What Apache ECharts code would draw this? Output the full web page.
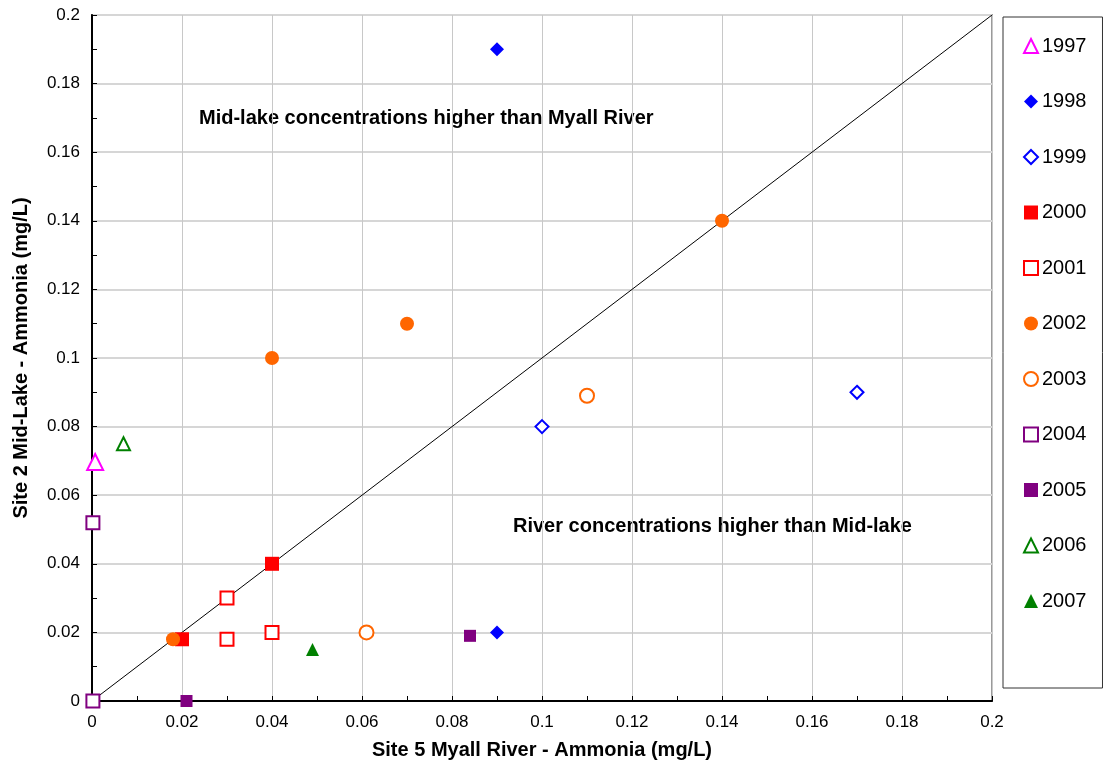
<!DOCTYPE html>
<html>
<head>
<meta charset="utf-8">
<script src="https://cdn.jsdelivr.net/npm/echarts@6/dist/echarts.min.js"></script>
<style>
  html, body { margin: 0; padding: 0; background: #fff; }
  #chart { width: 1108px; height: 769px; }
</style>
</head>
<body>
<div id="chart"></div>
<script>
// [river, midLake] pairs per year
var d1997 = [[0.0007, 0.0697]];
var d1998 = [[0.09, 0.19], [0.09, 0.02]];
var d1999 = [[0.1, 0.08], [0.17, 0.09]];
var d2000 = [[0.02, 0.018], [0.04, 0.04]];
var d2001 = [[0.03, 0.03], [0.03, 0.018], [0.04, 0.02]];
var d2002 = [[0.018, 0.018], [0.04, 0.1], [0.07, 0.11], [0.14, 0.14]];
var d2003 = [[0.11, 0.089], [0.061, 0.02]];
var d2004 = [[0.0002, 0.052], [0.0002, 0]];
var d2005 = [[0.021, 0], [0.084, 0.019]];
var d2006 = [[0.007, 0.075]];
var d2007 = [[0.049, 0.015]];
var oneToOne = [[0, 0], [0.2, 0.2]];

var font = "Liberation Sans, Arial, sans-serif";

// 年份系列样式
function pts(name, data, symbol, size, color, hollow) {
  return {
    name: name,
    type: "scatter",
    data: data,
    symbol: symbol,
    symbolSize: size,
    z: 5,
    itemStyle: hollow
      ? { color: "#fff", borderColor: color, borderWidth: 2, opacity: 1 }
      : { color: color, borderWidth: 0, opacity: 1 }
  };
}

var chart = echarts.init(document.getElementById("chart"));
var option = {
  backgroundColor: "#fff",
  animation: false,
  textStyle: { fontFamily: font },
  grid: { left: 92, right: 116, top: 15, bottom: 68, show: true, borderColor: "#9a9a9a", borderWidth: 2, backgroundColor: "transparent" },
  legend: {
    orient: "vertical",
    left: 1003,
    top: 17,
    width: 100,
    itemGap: 35.5,
    itemWidth: 14,
    itemHeight: 14,
    padding: [19, 16, 77, 20],
    borderColor: "#333",
    borderWidth: 1,
    textStyle: { fontSize: 20, color: "#000", fontFamily: font, padding: [0, 0, 0, -1] },
    data: ["1997", "1998", "1999", "2000", "2001", "2002", "2003", "2004", "2005", "2006", "2007"]
  },
  xAxis: {
    type: "value",
    min: 0, max: 0.2, interval: 0.02,
    name: "Site 5 Myall River - Ammonia (mg/L)",
    nameLocation: "middle",
    nameGap: 39,
    nameTextStyle: { fontSize: 20, fontWeight: "bold", color: "#000", fontFamily: font },
    axisLine: { show: true, onZero: false, lineStyle: { color: "#000", width: 2 } },
    axisTick: { show: true, inside: true, length: 5, lineStyle: { color: "#000" } },
    minorTick: { show: true, splitNumber: 2, length: 5, lineStyle: { color: "#000" } },
    axisLabel: { fontSize: 17, color: "#000", margin: 13, fontFamily: font },
    splitLine: { show: true, lineStyle: { color: "#c8c8c8", width: 1 } }
  },
  yAxis: {
    type: "value",
    min: 0, max: 0.2, interval: 0.02,
    name: "Site 2 Mid-Lake - Ammonia (mg/L)",
    nameLocation: "middle",
    nameGap: 61,
    nameTextStyle: { fontSize: 20, fontWeight: "bold", color: "#000", fontFamily: font },
    axisLine: { show: true, onZero: false, lineStyle: { color: "#000", width: 2 } },
    axisTick: { show: true, inside: true, length: 5, lineStyle: { color: "#000" } },
    minorTick: { show: true, splitNumber: 2, length: 5, lineStyle: { color: "#000" } },
    axisLabel: { fontSize: 17, color: "#000", margin: 12, fontFamily: font },
    splitLine: { show: true, lineStyle: { color: "#d6d6d6", width: 2 } }
  },
  graphic: [
    { type: "text", left: 199, top: 108, style: { text: "Mid-lake concentrations higher than Myall River", font: "bold 20px " + font, fill: "#000" } },
    { type: "text", left: 513, top: 516, style: { text: "River concentrations higher than Mid-lake", font: "bold 20px " + font, fill: "#000" } }
  ],
  series: [
    {
      name: "1:1",
      type: "line",
      data: oneToOne,
      symbol: "none",
      z: 3,
      silent: true,
      lineStyle: { color: "#000", width: 1 }
    },
    pts("1997", d1997, "triangle", 16, "#ff00ff", true),
    pts("1998", d1998, "diamond", 14, "#0000ff", false),
    pts("1999", d1999, "diamond", 13, "#0000ff", true),
    pts("2000", d2000, "rect", 14, "#ff0000", false),
    pts("2001", d2001, "rect", 13, "#ff0000", true),
    pts("2002", d2002, "circle", 14, "#ff6600", false),
    pts("2003", d2003, "circle", 14, "#ff6600", true),
    pts("2004", d2004, "rect", 13, "#800080", true),
    pts("2005", d2005, "rect", 12, "#800080", false),
    pts("2006", d2006, "triangle", 13, "#008000", true),
    pts("2007", d2007, "triangle", 13, "#008000", false)
  ]
};
chart.setOption(option);
</script>
</body>
</html>
